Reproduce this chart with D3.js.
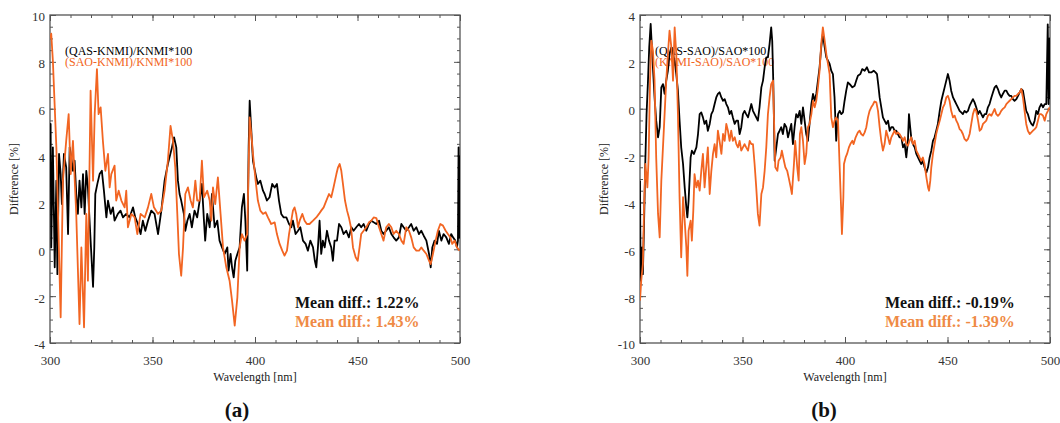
<!DOCTYPE html>
<html>
<head>
<meta charset="utf-8">
<script src="https://cdn.jsdelivr.net/npm/d3@7"></script>
<style>
  body { margin: 0; background: #fff; }
  svg text { font-family: "Liberation Serif", "Times New Roman", serif; }
</style>
</head>
<body>
<svg id="chart" width="1060" height="423"></svg>
<script>
// ---- data: [wavelength nm, difference %] ----
var qasKnmi = [
  [300.0,4.2],[300.3,5.35],[300.6,0.08],[301.4,4.35],[302.3,-0.77],[303.1,2.93],[303.6,-1.06],[304.4,4.07],
  [305.2,3.21],[305.8,1.93],[306.8,4.07],[307.9,3.5],[308.8,0.65],[309.6,4.35],[310.4,3.92],[311.2,3.35],
  [312.0,3.78],[312.8,2.36],[313.6,1.51],[314.4,2.93],[315.3,1.79],[316.1,3.21],[316.9,1.51],[317.7,3.35],
  [318.5,2.64],[319.3,1.22],[321.0,-1.6],[321.6,0.08],[322.1,2.36],[323.1,2.79],[324.2,3.21],[325.3,3.35],
  [326.3,2.5],[327.5,1.36],[328.3,2.08],[329.6,1.51],[330.7,1.79],[331.5,1.22],[333.1,1.51],[334.4,1.65],
  [335.6,1.36],[337.2,1.51],[338.8,1.36],[340.5,1.79],[341.6,1.36],[342.9,1.08],[344.2,0.65],[345.3,1.22],
  [346.5,0.79],[347.8,1.22],[349.4,1.65],[351.0,1.51],[352.7,0.65],[354.3,1.65],[355.9,2.93],[357.5,3.64],
  [359.5,4.35],[360.5,4.78],[361.6,4.35],[362.4,2.93],[363.2,2.36],[364.0,2.08],[365.3,1.51],[366.0,0.79],
  [367.0,1.22],[368.1,1.51],[369.2,0.94],[370.5,1.65],[371.8,1.36],[373.0,2.08],[374.1,2.79],[375.1,1.22],
  [375.7,0.37],[376.7,1.51],[377.9,0.94],[379.0,2.36],[380.3,0.94],[381.6,1.22],[382.7,0.37],[383.9,0.08],
  [385.2,-0.2],[386.5,0.08],[387.1,-0.91],[388.1,-0.2],[388.8,-0.77],[389.6,-1.2],[390.4,-0.49],[391.4,-0.2],
  [392.5,0.08],[393.6,1.79],[394.6,2.36],[395.3,1.22],[396.2,-0.91],[396.9,4.35],[397.4,6.34],[399.0,3.78],
  [400.6,3.07],[401.4,2.79],[402.6,2.93],[403.9,2.5],[404.7,2.36],[405.8,2.08],[407.1,2.22],[408.4,2.79],
  [409.6,2.64],[410.7,2.79],[411.7,2.08],[412.8,1.51],[414.0,1.36],[415.3,1.36],[416.6,1.08],[417.7,0.94],
  [418.5,1.22],[419.8,0.65],[421.0,0.79],[422.1,0.94],[423.4,0.37],[424.7,0.23],[425.8,-0.06],[427.0,0.37],
  [428.3,0.08],[429.2,-0.49],[429.9,-0.77],[430.7,0.08],[431.5,1.22],[432.3,-0.2],[433.1,0.37],[434.0,0.08],
  [435.1,0.79],[436.1,0.37],[437.2,0.08],[438.0,-0.49],[438.8,0.37],[440.0,0.37],[441.0,1.08],[442.1,0.94],
  [443.2,0.65],[444.5,0.79],[445.8,0.51],[447.0,0.94],[448.1,0.79],[449.4,0.94],[450.7,1.08],[451.8,0.94],
  [453.0,1.08],[454.3,0.79],[455.6,1.08],[456.7,1.22],[457.9,1.15],[459.2,1.08],[460.5,1.22],[461.6,0.79],
  [462.7,0.65],[464.0,0.79],[465.3,0.94],[466.5,0.65],[467.6,0.51],[468.9,0.37],[470.2,0.51],[471.4,1.08],
  [472.5,0.94],[473.8,0.79],[475.1,0.94],[476.2,1.08],[477.4,0.79],[478.7,0.94],[480.0,0.65],[481.1,0.79],
  [482.3,0.58],[483.6,0.37],[484.9,-0.2],[485.7,-0.77],[486.5,0.08],[487.6,0.37],[488.8,0.23],[489.7,0.79],
  [490.9,0.37],[492.0,0.65],[493.3,0.51],[494.6,0.23],[495.7,0.65],[496.6,0.51],[497.7,0.37],[498.5,0.08],
  [499.0,0.37],[499.3,4.35],[499.7,0.5],[500.0,4.0]
];
var saoKnmi = [
  [300.0,9.0],[300.6,9.2],[301.4,8.05],[303.1,4.35],[305.2,-2.9],[306.3,2.93],[307.9,4.63],[309.1,5.77],
  [310.1,3.21],[311.2,4.63],[312.8,1.51],[314.4,-3.19],[315.3,0.08],[316.6,-3.33],[317.7,1.51],[318.5,-1.34],
  [319.8,6.77],[321.0,2.93],[321.8,5.77],[322.9,7.69],[323.7,5.77],[324.7,6.06],[325.8,4.63],[327.0,3.35],
  [328.3,4.07],[329.1,2.64],[329.9,3.21],[331.5,3.57],[332.3,2.08],[333.5,2.5],[334.8,2.08],[336.4,1.79],
  [337.2,2.5],[338.0,0.94],[339.7,1.51],[341.3,1.36],[342.6,0.65],[344.2,1.51],[346.2,1.36],[347.8,1.79],
  [349.4,2.36],[350.7,1.79],[352.7,1.51],[354.3,1.65],[355.9,2.5],[357.5,3.78],[358.8,5.27],[360.0,4.63],
  [361.1,3.5],[362.1,1.51],[362.9,-0.2],[364.0,-1.13],[364.9,0.08],[366.0,2.36],[367.3,2.64],[368.6,2.08],
  [369.7,1.79],[370.9,2.93],[371.8,2.08],[373.0,2.08],[374.1,3.78],[375.1,2.22],[376.7,2.5],[377.9,2.08],
  [378.7,1.22],[379.5,2.64],[380.6,1.93],[381.9,3.07],[383.2,1.51],[384.4,0.08],[386.0,-0.77],[387.6,-1.34],
  [388.8,-2.19],[390.1,-3.26],[391.4,-2.05],[392.5,0.08],[393.6,0.65],[394.9,0.37],[396.2,0.65],[397.4,5.63],
  [398.5,4.63],[399.0,4.07],[400.3,2.93],[401.4,2.08],[402.6,1.65],[403.9,1.51],[405.2,1.58],[406.3,1.36],
  [407.9,1.08],[409.6,1.15],[410.7,0.65],[412.0,0.23],[413.3,-0.06],[414.4,-0.27],[415.6,-0.06],[416.6,0.65],
  [417.7,1.22],[418.5,1.65],[419.3,1.79],[420.1,1.51],[421.0,0.94],[421.8,1.22],[423.1,1.51],[424.2,1.22],
  [425.3,1.08],[426.6,1.08],[428.3,1.22],[429.9,1.36],[431.2,1.51],[432.3,1.65],[433.5,1.79],[434.8,2.08],
  [436.1,2.36],[437.2,2.22],[438.3,2.64],[439.7,3.21],[440.5,3.5],[441.3,3.64],[442.1,3.35],[442.9,2.79],
  [443.9,2.08],[444.9,1.65],[445.8,1.36],[446.8,0.94],[447.8,0.08],[449.1,-0.34],[450.1,-0.49],[451.0,0.08],
  [451.8,0.65],[453.0,0.79],[454.3,0.94],[455.6,1.15],[456.7,1.22],[457.9,1.36],[459.2,1.33],[460.5,0.94],
  [461.6,0.65],[462.7,0.37],[464.0,0.94],[465.3,1.08],[466.5,0.94],[467.6,0.65],[468.9,0.79],[470.2,0.65],
  [471.4,0.37],[472.5,0.23],[473.8,0.94],[475.1,0.79],[476.2,0.51],[477.4,0.08],[478.7,-0.06],[480.0,-0.06],
  [481.1,0.08],[482.3,-0.06],[483.6,-0.2],[484.9,-0.49],[485.7,-0.63],[486.8,-0.2],[488.1,0.37],[489.2,0.79],
  [490.4,1.08],[491.7,1.01],[493.0,0.79],[494.1,0.65],[495.3,0.51],[496.2,0.23],[497.4,0.37],[498.5,0.08],
  [499.8,-0.06]
];
var qasSao = [
  [300.0,-3.07],[300.3,-7.34],[301.0,-5.92],[301.4,-7.06],[301.9,-5.21],[302.6,-2.22],[303.2,-0.23],[303.9,1.2],
  [304.5,2.62],[305.2,3.62],[305.8,2.62],[306.3,1.77],[307.1,0.48],[307.9,-0.51],[308.8,-1.22],[309.6,-0.79],
  [310.4,0.91],[311.2,1.05],[312.0,0.63],[312.8,1.2],[313.6,1.62],[314.4,2.33],[315.3,2.62],[316.1,2.33],
  [316.9,2.05],[317.7,1.48],[318.5,0.77],[319.3,-0.51],[320.1,-1.65],[321.0,-2.36],[321.8,-3.36],[322.6,-4.21],
  [323.1,-4.64],[323.7,-3.93],[324.7,-2.08],[325.3,-1.79],[326.3,-1.93],[327.5,-1.65],[328.3,-1.08],[329.1,-0.23],
  [329.9,-0.16],[330.7,-0.37],[331.5,-0.65],[332.3,-0.51],[333.1,-0.94],[334.0,-0.65],[334.8,-0.23],[335.6,-0.09],
  [336.4,0.2],[337.2,0.48],[338.0,0.63],[338.8,0.7],[339.7,0.48],[340.5,0.34],[341.3,0.41],[342.1,0.2],
  [342.9,0.06],[343.7,-0.23],[344.5,-0.09],[345.3,-0.37],[346.2,-0.65],[347.0,-0.51],[347.8,-0.51],[348.6,-1.08],
  [349.4,-0.79],[350.2,-0.23],[351.0,-0.09],[351.8,-0.23],[352.7,-0.37],[353.5,-0.09],[354.3,0.2],[355.1,-0.09],
  [355.9,-0.23],[356.7,-0.37],[357.5,-0.51],[358.3,0.06],[359.2,0.91],[360.0,1.2],[360.8,1.77],[361.6,2.19],
  [362.4,2.19],[363.2,2.76],[364.0,3.47],[364.5,2.9],[365.0,1.2],[365.7,-2.22],[366.5,-1.65],[367.3,-1.08],
  [368.1,-0.94],[368.9,-0.79],[369.7,-1.08],[370.5,-0.65],[371.4,-0.79],[372.2,-1.22],[373.0,-0.94],[373.8,-0.65],
  [374.6,-1.51],[375.4,-0.79],[376.2,-0.23],[377.0,-0.37],[377.9,-0.09],[378.7,-0.65],[379.5,0.06],[380.3,-0.51],
  [381.1,-1.08],[381.9,-1.37],[382.7,-0.65],[383.6,0.2],[384.4,0.63],[385.2,0.34],[386.0,0.63],[386.8,1.2],
  [387.6,1.77],[388.4,2.62],[389.2,3.19],[390.1,2.62],[390.9,2.19],[391.7,2.05],[392.5,1.91],[393.3,1.62],
  [394.1,1.48],[394.9,0.48],[395.7,-1.37],[396.6,-0.23],[397.4,-0.09],[398.2,-0.23],[399.0,-0.16],[399.8,0.34],
  [400.6,0.77],[401.4,1.12],[402.3,1.05],[403.6,0.91],[404.7,0.98],[405.5,1.2],[406.3,1.41],[407.5,1.48],
  [408.4,1.69],[409.6,1.62],[410.7,1.77],[411.7,1.55],[412.8,1.55],[414.0,1.62],[414.9,1.55],[415.6,1.48],
  [416.2,1.05],[416.9,0.48],[417.7,0.06],[418.5,-0.37],[419.3,-0.51],[420.1,-0.65],[421.0,-0.51],[421.8,-0.94],
  [422.6,-0.79],[423.4,-0.79],[424.2,-0.94],[425.0,-0.94],[425.8,-1.08],[426.6,-1.22],[427.5,-1.22],[428.3,-1.65],
  [429.1,-1.51],[429.9,-2.08],[430.7,-1.37],[431.2,-0.23],[431.8,-0.79],[432.3,-1.22],[433.1,-1.51],[434.0,-1.65],
  [434.8,-1.93],[435.6,-2.08],[436.4,-2.22],[437.2,-2.36],[438.0,-2.22],[438.8,-2.5],[439.7,-2.72],[440.5,-2.5],
  [441.3,-2.08],[442.1,-1.79],[442.9,-1.37],[443.7,-1.22],[444.5,-0.94],[445.3,-0.65],[446.2,-0.09],[447.0,0.34],
  [447.8,0.63],[448.6,0.91],[449.4,1.2],[450.2,1.48],[451.0,1.2],[451.8,0.77],[452.7,0.48],[453.5,0.34],
  [454.3,0.2],[455.1,0.06],[455.9,-0.09],[456.7,-0.16],[457.5,-0.23],[458.3,-0.09],[459.2,-0.16],[460.0,-0.09],
  [460.8,0.13],[461.6,0.27],[462.4,0.41],[463.2,0.27],[464.0,0.06],[464.9,-0.23],[465.7,-0.09],[466.5,-0.23],
  [467.3,-0.37],[468.1,-0.23],[468.9,-0.23],[469.7,0.06],[470.5,0.2],[471.4,0.48],[472.2,0.7],[473.0,0.91],
  [473.8,0.98],[474.6,0.84],[475.4,0.63],[476.2,0.48],[477.0,0.63],[477.9,0.77],[478.7,0.77],[479.5,0.63],
  [480.3,0.55],[481.1,0.55],[481.9,0.41],[482.7,0.34],[483.6,0.41],[484.4,0.55],[485.2,0.7],[486.0,0.84],
  [486.8,0.77],[487.6,0.34],[488.4,-0.09],[489.2,-0.23],[490.1,-0.51],[490.9,-0.65],[491.7,-0.72],[492.5,-0.51],
  [493.3,-0.09],[494.1,-0.23],[494.9,0.06],[495.7,0.2],[496.6,0.06],[497.4,0.2],[498.2,0.2],[498.9,3.6],
  [499.3,0.2],[499.7,3.0],[500.0,0.4]
];
var knmiSao = [
  [300.0,-8.19],[300.6,-7.34],[301.4,-6.63],[301.9,-4.49],[302.6,-2.36],[303.1,-2.79],[303.6,-3.36],[304.2,-2.08],
  [304.9,1.2],[305.5,2.9],[306.3,2.48],[307.1,1.2],[307.9,-2.08],[308.8,-4.49],[309.6,-5.49],[310.4,-3.07],
  [311.2,-1.65],[312.0,-0.23],[312.8,1.2],[313.6,2.33],[314.4,3.33],[315.3,2.62],[316.1,1.2],[316.9,3.47],
  [317.7,2.33],[318.5,-0.23],[319.3,-3.78],[320.1,-6.34],[321.0,-3.78],[321.8,-4.78],[322.6,-5.92],[323.1,-7.13],
  [323.7,-5.21],[324.7,-4.78],[325.3,-5.63],[326.0,-4.35],[326.6,-2.79],[327.5,-3.36],[328.3,-3.07],[329.1,-3.5],
  [329.9,-2.65],[330.7,-1.93],[331.5,-3.36],[332.3,-2.5],[333.1,-1.65],[334.0,-3.64],[334.8,-2.65],[335.6,-1.93],
  [336.4,-1.51],[337.2,-2.08],[338.0,-0.94],[338.8,-1.37],[339.7,-1.93],[340.5,-1.08],[341.3,-1.37],[342.1,-0.65],
  [342.9,-0.94],[343.7,-1.37],[344.5,-0.94],[345.3,-1.37],[346.2,-1.22],[347.0,-1.51],[347.8,-1.65],[348.6,-1.37],
  [349.4,-1.79],[350.2,-1.65],[351.0,-1.51],[351.8,-1.65],[352.7,-1.79],[353.5,-1.37],[354.3,-1.51],[355.1,-1.51],
  [355.9,-2.36],[356.7,-3.36],[357.5,-4.49],[358.3,-4.99],[359.2,-3.64],[360.0,-3.36],[360.8,-2.65],[361.6,-1.65],
  [362.4,-0.23],[363.2,0.48],[364.0,1.05],[364.9,1.2],[365.3,-0.23],[366.0,-2.5],[367.0,-2.65],[367.6,-2.22],
  [368.6,-2.08],[369.2,-1.79],[370.2,-2.22],[370.9,-2.5],[371.8,-2.65],[372.5,-2.93],[373.5,-3.36],[374.1,-3.64],
  [375.1,-2.36],[375.7,-1.37],[376.7,-2.5],[377.4,-3.07],[378.0,-1.08],[378.7,-0.79],[379.5,-1.37],[380.3,-2.36],
  [381.1,-1.93],[381.9,-0.79],[382.7,-0.65],[383.6,-0.23],[384.4,0.34],[385.2,0.06],[386.0,0.34],[386.8,0.91],
  [387.6,1.62],[388.4,2.76],[389.2,3.47],[390.1,2.9],[390.9,2.33],[391.7,1.91],[392.5,1.48],[393.3,-0.37],
  [394.1,-0.79],[394.9,-0.51],[395.7,-0.37],[396.6,-0.51],[397.4,-2.5],[398.2,-4.49],[398.5,-5.35],[399.2,-3.78],
  [399.5,-2.36],[400.3,-2.08],[401.0,-1.93],[401.9,-1.65],[402.6,-1.51],[403.6,-1.37],[404.2,-1.51],[405.2,-1.22],
  [406.3,-1.01],[407.1,-0.94],[407.9,-1.08],[408.8,-1.15],[409.6,-1.01],[410.4,-0.79],[411.2,-0.37],[412.0,-0.09],
  [412.8,0.06],[413.6,0.17],[414.4,0.31],[415.3,0.27],[416.1,-0.09],[416.9,-0.79],[417.7,-1.37],[418.5,-1.79],
  [419.3,-1.51],[420.1,-0.94],[421.0,-1.22],[421.8,-1.51],[422.6,-1.22],[423.4,-1.08],[424.2,-0.94],[425.0,-1.08],
  [425.8,-1.01],[426.6,-1.08],[427.5,-1.22],[428.3,-1.37],[429.1,-1.22],[429.9,-1.51],[430.7,-1.58],[431.5,-1.37],
  [432.3,-1.22],[433.1,-1.51],[434.0,-1.37],[434.8,-1.79],[435.6,-1.93],[436.4,-2.08],[437.2,-2.22],[438.0,-2.08],
  [438.8,-2.36],[439.7,-2.93],[440.5,-3.36],[441.0,-3.5],[441.6,-3.07],[442.1,-2.5],[442.9,-1.93],[443.7,-1.51],
  [444.5,-1.08],[445.3,-0.79],[446.2,-0.51],[447.0,-0.23],[447.8,0.06],[448.6,0.2],[449.4,0.48],[450.2,0.55],
  [451.0,0.34],[451.8,-0.09],[452.7,-0.37],[453.5,-0.3],[454.3,-0.51],[455.1,-0.65],[455.9,-0.87],[456.7,-0.94],
  [457.5,-1.08],[458.3,-1.29],[459.2,-1.37],[460.0,-1.29],[460.8,-1.08],[461.6,-0.65],[462.4,-0.23],[463.2,-0.01],
  [464.0,-0.09],[464.9,-0.51],[465.7,-0.94],[466.5,-0.87],[467.3,-0.65],[468.1,-0.58],[468.9,-0.51],[469.7,-0.3],
  [470.5,-0.23],[471.4,-0.3],[472.2,-0.16],[473.0,-0.01],[473.8,-0.23],[474.6,-0.3],[475.4,-0.23],[476.2,-0.09],
  [477.0,-0.01],[477.9,0.06],[478.7,0.2],[479.5,0.27],[480.3,0.34],[481.1,0.41],[481.9,0.48],[482.7,0.55],
  [483.6,0.55],[484.4,0.63],[485.2,0.7],[486.0,0.84],[486.8,0.48],[487.6,-0.09],[488.4,-0.65],[489.2,-0.94],
  [490.1,-1.08],[490.9,-1.01],[491.7,-0.94],[492.5,-0.87],[493.3,-0.79],[494.1,-0.51],[494.9,-0.23],[495.7,-0.23],
  [496.6,-0.3],[497.4,-0.51],[498.2,-0.23],[499.0,-0.09],[499.8,0.06]
];

var xTicks = [300, 350, 400, 450, 500];
var yTicksA = [-4, -2, 0, 2, 4, 6, 8, 10];
var yTicksB = [-10, -8, -6, -4, -2, 0, 2, 4];
var legendA = ["(QAS-KNMI)/KNMI*100", "(SAO-KNMI)/KNMI*100"];
var legendB = ["(QAS-SAO)/SAO*100", "(KNMI-SAO)/SAO*100"];
var meanA = ["Mean diff.: 1.22%", "Mean diff.: 1.43%"];
var meanB = ["Mean diff.: -0.19%", "Mean diff.: -1.39%"];

var lineBlack = "#000000",
    lineOrange = "#f26522",
    textOrange = "#ef8a45",
    axisGrey = "#555555";

var panels = [
  { x0: 50,  x1: 460,  yTicks: yTicksA, series: [qasKnmi, saoKnmi], legend: legendA, mean: meanA, tag: "(a)", tagX: 237 },
  { x0: 640, x1: 1050, yTicks: yTicksB, series: [qasSao, knmiSao],  legend: legendB, mean: meanB, tag: "(b)", tagX: 824 }
];

var plotTop = 15, plotBottom = 343;
var svg = d3.select("#chart");
var plainNum = d => String(d);   // keep the ascii hyphen for negatives

function styleAxis(sel) {
  sel.select(".domain").remove();
  sel.selectAll(".tick line").attr("stroke", axisGrey).attr("stroke-width", 1);
  sel.selectAll(".tick text").attr("fill", "#333").style("font-size", "13px");
}

panels.forEach(function(p, pi) {
  var yDomain = d3.extent(p.yTicks);
  var x = d3.scaleLinear().domain([300, 500]).range([p.x0, p.x1]);
  var y = d3.scaleLinear().domain(yDomain).range([plotBottom, plotTop]);
  var xMinor = d3.range(300, 501, 10);
  var yMinor = d3.range(yDomain[0], yDomain[1] + 0.01, 0.5);

  var g = svg.append("g");

  // minor ticks on all four sides
  [[d3.axisBottom(x), "translate(0," + plotBottom + ")", xMinor],
   [d3.axisTop(x), "translate(0," + plotTop + ")", xMinor],
   [d3.axisLeft(y), "translate(" + p.x0 + ",0)", yMinor],
   [d3.axisRight(y), "translate(" + p.x1 + ",0)", yMinor]].forEach(function(a) {
    g.append("g").attr("transform", a[1])
      .call(a[0].tickValues(a[2]).tickSize(-3).tickSizeOuter(0).tickFormat(""))
      .call(styleAxis);
  });

  // major ticks, labels on bottom and left
  g.append("g").attr("transform", "translate(0," + plotBottom + ")")
    .call(d3.axisBottom(x).tickValues(xTicks).tickSize(-6).tickSizeOuter(0).tickPadding(13).tickFormat(plainNum))
    .call(styleAxis);
  g.append("g").attr("transform", "translate(0," + plotTop + ")")
    .call(d3.axisTop(x).tickValues(xTicks).tickSize(-6).tickSizeOuter(0).tickFormat(""))
    .call(styleAxis);
  g.append("g").attr("transform", "translate(" + p.x0 + ",0)")
    .call(d3.axisLeft(y).tickValues(p.yTicks).tickSize(-6).tickSizeOuter(0).tickPadding(5).tickFormat(plainNum))
    .call(styleAxis)
    .selectAll(".tick text").attr("dy", "0.45em");
  g.append("g").attr("transform", "translate(" + p.x1 + ",0)")
    .call(d3.axisRight(y).tickValues(p.yTicks).tickSize(-6).tickSizeOuter(0).tickFormat(""))
    .call(styleAxis);

  // frame
  g.append("rect")
    .attr("x", p.x0).attr("y", plotTop)
    .attr("width", p.x1 - p.x0).attr("height", plotBottom - plotTop)
    .attr("fill", "none").attr("stroke", axisGrey).attr("stroke-width", 1.3);

  // axis titles
  g.append("text")
    .attr("x", (p.x0 + p.x1) / 2).attr("y", 381)
    .attr("text-anchor", "middle").style("font-size", "12px").attr("fill", "#222")
    .text("Wavelength [nm]");
  g.append("text")
    .attr("transform", "translate(" + (p.x0 - 32) + "," + ((plotTop + plotBottom) / 2) + ") rotate(-90)")
    .attr("text-anchor", "middle").style("font-size", "12px").attr("fill", "#222")
    .text("Difference [%]");

  // legend (drawn under the lines)
  p.legend.forEach(function(t, i) {
    g.append("text")
      .attr("x", p.x0 + 15).attr("y", 54.5 + i * 11.5)
      .style("font-size", "12px")
      .attr("fill", i === 0 ? lineBlack : lineOrange)
      .text(t);
  });

  // lines
  var clipId = "clip" + pi;
  g.append("clipPath").attr("id", clipId).append("rect")
    .attr("x", p.x0).attr("y", plotTop).attr("width", p.x1 - p.x0).attr("height", plotBottom - plotTop);

  var line = d3.line().x(d => x(d[0])).y(d => y(d[1]));

  p.series.forEach(function(s, i) {
    g.append("path")
      .datum(s)
      .attr("clip-path", "url(#" + clipId + ")")
      .attr("d", line)
      .attr("fill", "none")
      .attr("stroke", i === 0 ? lineBlack : lineOrange)
      .attr("stroke-width", 1.8)
      .attr("stroke-linejoin", "round");
  });

  // mean differences
  p.mean.forEach(function(t, i) {
    g.append("text")
      .attr("x", p.x0 + 245).attr("y", 307.5 + i * 19.5)
      .style("font-size", "16px").style("font-weight", "bold")
      .attr("fill", i === 0 ? "#111" : textOrange)
      .text(t);
  });

  // panel tag
  g.append("text")
    .attr("x", p.tagX).attr("y", 417)
    .attr("text-anchor", "middle")
    .style("font-size", "21px").style("font-weight", "bold").attr("fill", "#111")
    .text(p.tag);
});
</script>
</body>
</html>
